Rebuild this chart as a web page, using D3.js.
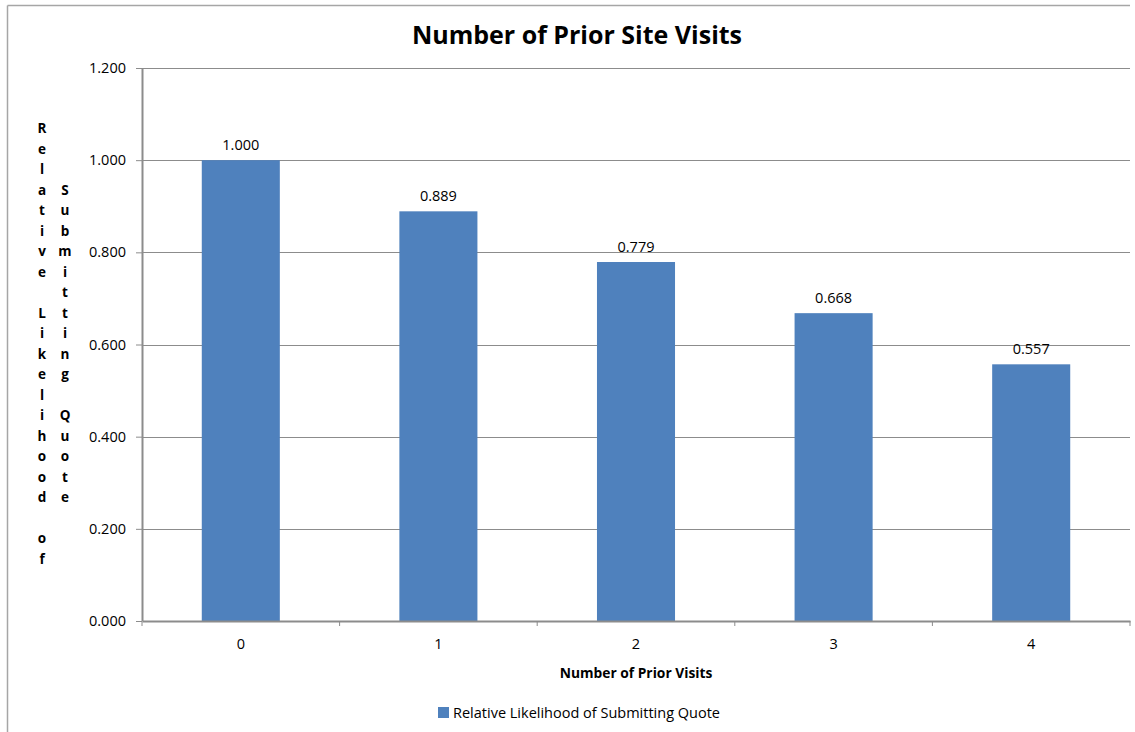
<!DOCTYPE html>
<html>
<head>
<meta charset="utf-8">
<script src="https://d3js.org/d3.v7.min.js"></script>
<style>
  body { margin: 0; background: #fff; }
  text { font-family: "Open Sans", "DejaVu Sans", sans-serif; fill: #000; }
</style>
</head>
<body>
<svg id="chart" width="1135" height="732"></svg>
<script>
// chart data
const categories = ["0", "1", "2", "3", "4"];
const values = [1.000, 0.889, 0.779, 0.668, 0.557];
const yTicks = [0, 0.2, 0.4, 0.6, 0.8, 1.0, 1.2];
const seriesName = "Relative Likelihood of Submitting Quote";
const chartTitle = "Number of Prior Site Visits";
const xTitle = "Number of Prior Visits";
const yTitleCols = ["Relative Likelihood of", "Submitting Quote"];

const svg = d3.select("#chart");
const margin = { top: 68, left: 142, right: 5, bottom: 111 };
const width = 1135, height = 732;
const plotW = width - margin.left - margin.right; // 988
const plotH = height - margin.top - margin.bottom; // 553
const gray = "#8c8c8c";

// outer chart frame (top and left edges visible)
svg.append("line").attr("x1", 7.5).attr("x2", 1130).attr("y1", 5.5).attr("y2", 5.5)
  .attr("stroke", "#a6a6a6").attr("stroke-width", 1.5);
svg.append("line").attr("x1", 7.5).attr("x2", 7.5).attr("y1", 5.5).attr("y2", 732)
  .attr("stroke", "#a6a6a6").attr("stroke-width", 1.5);

const x = d3.scaleBand().domain(categories).range([0, plotW]).paddingInner(0.605).paddingOuter(0.3025);
const xBand = d3.scaleBand().domain(categories).range([0, plotW]);
const y = d3.scaleLinear().domain([0, 1.2]).range([plotH, 0]);

const g = svg.append("g").attr("transform", `translate(${margin.left},${margin.top})`);

// gridlines
g.append("g").selectAll("line").data(yTicks.filter(d => d > 0)).join("line")
  .attr("x1", 0).attr("x2", plotW)
  .attr("y1", d => Math.round(y(d)) + 0.5).attr("y2", d => Math.round(y(d)) + 0.5)
  .attr("stroke", gray).attr("stroke-width", 1);

// bars
g.append("g").selectAll("rect").data(values).join("rect")
  .attr("x", (d, i) => x(categories[i]))
  .attr("width", x.bandwidth())
  .attr("y", d => y(d))
  .attr("height", d => plotH - y(d))
  .attr("fill", "#4f81bd");

// value labels
g.append("g").selectAll("text").data(values).join("text")
  .attr("x", (d, i) => x(categories[i]) + x.bandwidth() / 2)
  .attr("y", d => y(d) - 10)
  .attr("text-anchor", "middle")
  .style("font-size", "14.5px")
  .text(d => d3.format(".3f")(d));

// y axis
const yAxis = g.append("g")
  .call(d3.axisLeft(y).tickValues(yTicks).tickFormat(d3.format(".3f")).tickSize(6).tickPadding(10));
yAxis.select(".domain").attr("stroke", gray).attr("stroke-width", 2).attr("d", `M0.5,0V${plotH}`);
yAxis.selectAll(".tick line").attr("stroke", gray);
yAxis.selectAll(".tick text").style("font-size", "14.5px").style("font-family", "'Open Sans', sans-serif");

// x axis
const xAxis = g.append("g").attr("transform", `translate(0,${plotH})`)
  .call(d3.axisBottom(xBand).tickSize(0).tickPadding(18));
xAxis.select(".domain").attr("stroke", gray).attr("stroke-width", 2);
xAxis.selectAll(".tick text").style("font-size", "14.5px").style("font-family", "'Open Sans', sans-serif");
// boundary tick marks between categories
xAxis.append("g").selectAll("line").data(d3.range(categories.length + 1)).join("line")
  .attr("x1", i => i * xBand.step()).attr("x2", i => i * xBand.step())
  .attr("y1", 0).attr("y2", 5)
  .attr("stroke", gray);

// title
svg.append("text").attr("x", 577).attr("y", 44)
  .attr("text-anchor", "middle")
  .style("font-size", "25px").style("font-weight", "bold")
  .text(chartTitle);

// x title
svg.append("text").attr("x", 636).attr("y", 678)
  .attr("text-anchor", "middle")
  .style("font-size", "13.8px").style("font-weight", "bold")
  .text(xTitle);

// y title: letters stacked in two columns
const lineH = 20.5;
const midY = margin.top + plotH / 2;
const colX = [42, 65];
yTitleCols.forEach((s, c) => {
  const chars = s.split("");
  const top = midY - (chars.length - 1) / 2 * lineH;
  svg.append("g").selectAll("text").data(chars).join("text")
    .attr("x", colX[c])
    .attr("y", (d, i) => top + i * lineH + 4)
    .attr("text-anchor", "middle")
    .style("font-size", "13.5px").style("font-weight", "bold")
    .text(d => d);
});

// legend
svg.append("rect").attr("x", 438).attr("y", 707).attr("width", 11).attr("height", 11).attr("fill", "#4f81bd");
svg.append("text").attr("x", 453).attr("y", 718)
  .style("font-size", "14.5px")
  .text(seriesName);
</script>
</body>
</html>
